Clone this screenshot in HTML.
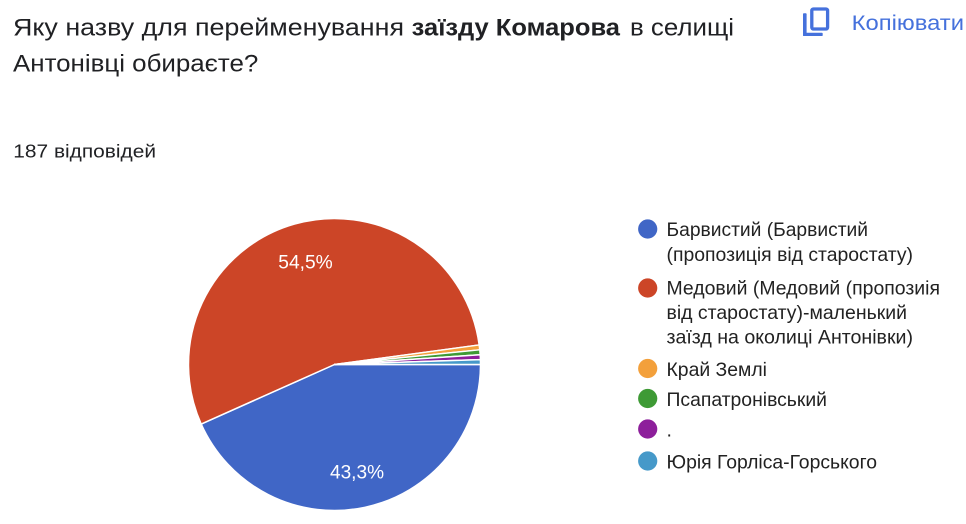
<!DOCTYPE html>
<html>
<head>
<meta charset="utf-8">
<style>
  html, body { margin: 0; padding: 0; background: #ffffff; }
  svg { display: block; }
  text { font-family: "Liberation Sans", "Noto Sans CJK SC", sans-serif; }
</style>
</head>
<body>
<svg width="966" height="524" viewBox="0 0 966 524" xmlns="http://www.w3.org/2000/svg">
  <rect x="0" y="0" width="966" height="524" fill="#ffffff"/>

  <!-- Title -->
  <text y="35.7" font-size="24.4" fill="#202124">
    <tspan x="13" textLength="391" lengthAdjust="spacingAndGlyphs">Яку назву для перейменування</tspan>
  </text>
  <text y="35.7" font-size="24.4" fill="#202124" font-weight="bold">
    <tspan x="411.7" textLength="208.3" lengthAdjust="spacingAndGlyphs">заїзду Комарова</tspan>
  </text>
  <text y="35.7" font-size="24.4" fill="#202124">
    <tspan x="630" textLength="104" lengthAdjust="spacingAndGlyphs">в селищі</tspan>
  </text>
  <text y="71.7" font-size="24.4" fill="#202124">
    <tspan x="13" textLength="245.3" lengthAdjust="spacingAndGlyphs">Антонівці обираєте?</tspan>
  </text>

  <!-- Copy button -->
  <g fill="#4571dc">
    <rect x="803" y="13.3" width="3.6" height="22.7" rx="0.8"/>
    <rect x="803" y="32.7" width="19.7" height="3.3" rx="0.8"/>
  </g>
  <rect x="811.8" y="9" width="15.8" height="20" rx="1.6" fill="none" stroke="#4571dc" stroke-width="3.3"/>
  <text x="851.7" y="30" font-size="21.5" fill="#4571dc" textLength="112.3" lengthAdjust="spacingAndGlyphs">Копіювати</text>

  <!-- Response count -->
  <text x="13.3" y="157.3" font-size="18.5" fill="#202124" textLength="142.7" lengthAdjust="spacingAndGlyphs">187 відповідей</text>

  <!-- Pie -->
  <g stroke="#ffffff" stroke-width="1.5" stroke-linejoin="round">
    <path d="M334.5,364.5 L480.5,364.5 A146,146 0 0 1 201.19,424.04 Z" fill="#4066c6"/>
    <path d="M334.5,364.5 L201.19,424.04 A146,146 0 1 1 479.18,344.94 Z" fill="#cc4527"/>
    <path d="M334.5,364.5 L479.18,344.94 A146,146 0 0 1 479.76,349.81 Z" fill="#f3a03b"/>
    <path d="M334.5,364.5 L479.76,349.81 A146,146 0 0 1 480.17,354.70 Z" fill="#3e9a35"/>
    <path d="M334.5,364.5 L480.17,354.70 A146,146 0 0 1 480.42,359.58 Z" fill="#8d1f9b"/>
    <path d="M334.5,364.5 L480.42,359.58 A146,146 0 0 1 480.5,364.5 Z" fill="#4699c9"/>
  </g>
  <text x="278.3" y="268.3" font-size="19" fill="#ffffff" textLength="54.4" lengthAdjust="spacingAndGlyphs">54,5%</text>
  <text x="330" y="478.3" font-size="19" fill="#ffffff" textLength="54" lengthAdjust="spacingAndGlyphs">43,3%</text>

  <!-- Legend -->
  <g>
    <circle cx="647.7" cy="229" r="9.6" fill="#4066c6"/>
    <text x="666.5" y="236" font-size="19.5" fill="#222222" textLength="201.5" lengthAdjust="spacingAndGlyphs">Барвистий (Барвистий</text>
    <text x="666.5" y="261" font-size="19.5" fill="#222222" textLength="246.5" lengthAdjust="spacingAndGlyphs">(пропозиція від старостату)</text>

    <circle cx="647.7" cy="288" r="9.6" fill="#cc4527"/>
    <text x="666.5" y="294.5" font-size="19.5" fill="#222222" textLength="273.5" lengthAdjust="spacingAndGlyphs">Медовий (Медовий (пропозиія</text>
    <text x="666.5" y="319" font-size="19.5" fill="#222222" textLength="240.5" lengthAdjust="spacingAndGlyphs">від старостату)-маленький</text>
    <text x="666.5" y="343.5" font-size="19.5" fill="#222222" textLength="246.5" lengthAdjust="spacingAndGlyphs">заїзд на околиці Антонівки)</text>

    <circle cx="647.7" cy="368.5" r="9.6" fill="#f3a03b"/>
    <text x="666.5" y="375.8" font-size="19.5" fill="#222222" textLength="100.5" lengthAdjust="spacingAndGlyphs">Край Землі</text>

    <circle cx="647.7" cy="398.5" r="9.6" fill="#3e9a35"/>
    <text x="666.5" y="405.8" font-size="19.5" fill="#222222" textLength="160.5" lengthAdjust="spacingAndGlyphs">Псапатронівський</text>

    <circle cx="647.7" cy="429" r="9.6" fill="#8d1f9b"/>
    <text x="666.5" y="436.3" font-size="19.5" fill="#222222">.</text>

    <circle cx="647.7" cy="461" r="9.6" fill="#4699c9"/>
    <text x="666.5" y="468.3" font-size="19.5" fill="#222222" textLength="210.5" lengthAdjust="spacingAndGlyphs">Юрія Горліса-Горського</text>
  </g>
</svg>
</body>
</html>
